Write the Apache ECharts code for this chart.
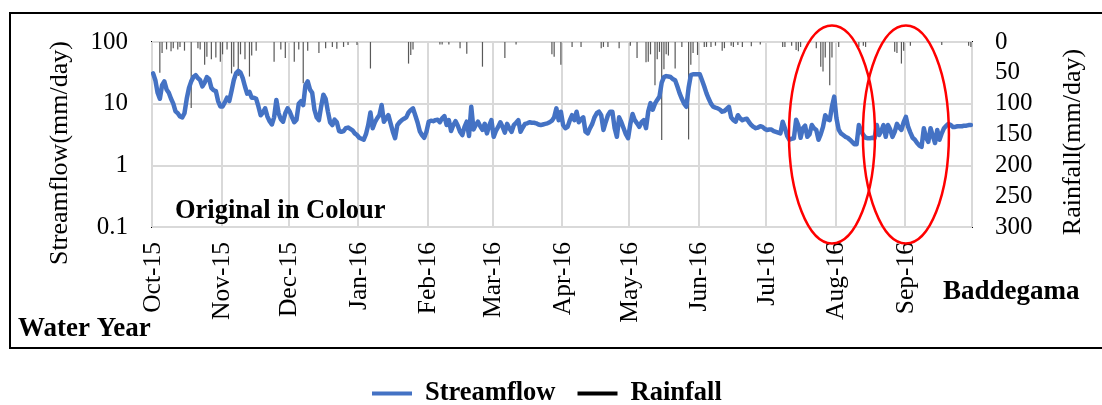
<!DOCTYPE html>
<html>
<head>
<meta charset="utf-8">
<script src="https://cdn.jsdelivr.net/npm/echarts@6/dist/echarts.min.js"></script>
<style>
  html, body { margin: 0; padding: 0; background: #fff; }
  #main { width: 1102px; height: 405px; }
</style>
</head>
<body>
<div id="main"></div>
<script>
// Water year 2015/16, daily values starting 1 Oct 2015 (366 days)
const startDate = Date.UTC(2015, 9, 1);
const dayCount = 366;
const monthLabels = ['Oct-15', 'Nov-15', 'Dec-15', 'Jan-16', 'Feb-16', 'Mar-16',
                     'Apr-16', 'May-16', 'Jun-16', 'Jul-16', 'Aug-16', 'Sep-16'];
const flowTicks = [0.1, 1, 10, 100];
const rainTicks = [0, 50, 100, 150, 200, 250, 300];

// Daily streamflow, mm/day
const streamflow = [
  31,24,15,12,20,23,17,15,12,10,
  7.5,7,6.2,6,7,12,18,23,27,29,
  26,24,19,22,27,25,18,16.5,16,11,
  9,9,10.5,12.5,11,16,24,31,34,32,
  26,19,14.5,15.5,12.5,12.5,12,9,6.5,7.2,
  8.4,6.2,5.2,4.6,6,11.5,7,5.6,5.1,7,
  8.4,7.4,6,5,5.5,10,11,9.5,20,23,
  17,15,8,6,5.4,9,14,12,7.5,5,
  4.5,5.5,5,3.6,3.5,3.6,4,4.1,3.9,3.7,
  3.3,3.1,2.8,2.7,2.6,3.2,4.5,7.2,4,5,
  5.8,6.5,9.5,5.1,5.8,6.5,4.8,3.5,2.75,4.5,
  5,5.4,5.7,6,7.2,7.9,8.4,6.5,5,3.6,
  3.1,2.8,3.5,5.1,5.3,5.2,5.4,5.5,5,5.8,
  6.3,4.5,5.4,3.6,4.5,5.2,4.4,3.5,3.1,4.2,
  5.1,3,8.9,3.8,4.5,5.1,4.3,3.75,4.7,3.3,
  4.4,5.4,2.9,3.6,4.2,5,4.2,3.4,4.7,4,
  3.5,4.5,4.9,5.4,3.5,4.1,4.7,4.8,5,4.9,
  4.9,4.8,4.6,4.5,4.6,4.7,4.8,5,5.3,6,
  8.4,5.4,7.4,4.5,4,4.2,5.4,6.5,5.4,7.4,
  5,5.6,6,3.5,3.3,4,4.7,6,7,7.4,
  6.5,3.75,5,6.5,7.4,7.4,4,2.9,6,5,
  4,3.2,2.75,4.7,6.8,5.4,4.8,4.2,5,5.4,
  4,7.5,10.2,8,10,11.5,13,22,27,28,
  27.5,27,25,24,19,14.7,12,10,8.9,18,
  29,30,30,30,30,24,19,14.7,12,10,
  8.9,8.6,8.4,8,7.4,7.6,8.2,8.9,6,5.4,
  5.1,6.5,5.8,5.4,5.6,5.7,5,4.5,4.2,4,
  4.1,4.3,4.2,3.9,3.75,3.8,3.8,3.6,3.5,3.4,
  3.3,5.1,4,3,2.6,2.7,2.75,5.5,4.4,2.8,
  4,4.4,2.9,3.2,4.5,4,3.75,2.6,3.2,4.2,
  6.5,5.6,5.4,9,13,5.8,3.8,3.3,3.1,2.9,
  2.8,2.6,2.4,2.2,2.2,4.5,3.6,3.1,2.8,2.75,
  2.75,2.8,2.75,4.5,3.1,3.6,4.5,2.9,4.5,3.8,
  2.9,3.5,4.7,4.1,3.75,5,6.1,4.2,3.4,2.8,
  2.6,2.3,2.1,2,4,2.8,2.4,4,3,2.3,
  3.75,2.6,3.3,4,4.4,4.7,4.5,4.2,4.2,4.3,
  4.3,4.3,4.4,4.4,4.5,4.5
];

// Rain days (day of water year) and daily rainfall, mm/day
const rainDay = [
  3,4,6,8,9,11,12,14,17,20,21,23,24,26,28,30,31,33,35,36,
  38,39,41,43,44,46,54,57,59,63,65,67,69,74,77,80,82,85,87,91,
  97,114,115,116,128,129,132,137,140,147,157,162,178,179,182,187,191,200,201,203,
  208,213,216,220,221,222,224,225,226,227,228,229,230,233,236,239,240,241,243,246,
  247,249,251,254,255,258,259,261,263,267,271,281,282,285,287,288,289,296,298,299,
  300,302,303,306,315,317,318,331,332,334,335,338,352,364,365
];
const rainMm = [
  50,18,12,15,10,12,8,14,107,10,12,37,24,28,25,32,20,12,51,40,
  55,20,28,56,22,14,32,12,26,32,12,67,14,18,10,8,11,8,5,5,
  43,35,21,12,4,4,4,10,19,40,26,4,20,24,37,8,8,10,8,8,
  10,6,26,33,32,20,70,28,16,159,44,20,22,43,8,158,37,18,21,8,
  8,8,6,14,10,6,8,5,8,7,4,8,8,6,13,15,8,10,40,48,
  25,70,25,8,8,6,8,16,18,35,14,6,5,6,8
];

// Days highlighted by the red rings
const highlightDays = [303, 336];

const FONT = "'Liberation Serif', 'Times New Roman', serif";

const days = [];
const monthStart = {};
for (let i = 0; i < dayCount; i++) {
  const d = new Date(startDate + i * 86400000);
  days.push(d.toISOString().slice(0, 10));
  if (d.getUTCDate() === 1) {
    const m = (d.getUTCMonth() - 9 + 12) % 12;
    monthStart[i] = monthLabels[m];
  }
}
const rainfall = new Array(dayCount).fill(0);
rainDay.forEach((d, k) => { rainfall[d] = rainMm[k]; });

const GRID = { left: 152, top: 42, right: 130, bottom: 178 };

const chart = echarts.init(document.getElementById('main'));

const option = {
  animation: false,
  backgroundColor: '#fff',
  textStyle: { fontFamily: FONT },
  grid: { left: GRID.left, top: GRID.top, right: GRID.right, bottom: GRID.bottom,
          show: true, borderColor: '#000', borderWidth: 2, backgroundColor: 'transparent' },
  legend: {
    left: 372, top: 380, padding: 0,
    itemWidth: 40, itemHeight: 4, itemGap: 22,
    textStyle: { fontFamily: FONT, fontWeight: 'bold', fontSize: 26.5, color: '#000',
                 padding: [0, 0, 0, 8] },
    data: [
      { name: 'Streamflow', icon: 'rect' },
      { name: 'Rainfall', icon: 'rect', itemStyle: { color: '#000' } }
    ]
  },
  xAxis: {
    type: 'category',
    data: days,
    boundaryGap: true,
    axisLine: { show: false },
    axisTick: { show: false },
    axisLabel: {
      interval: (i) => monthStart[i] !== undefined,
      formatter: (v, i) => monthStart[i] || '',
      rotate: 90, margin: 15,
      fontFamily: FONT, fontSize: 25.5, color: '#000'
    },
    splitLine: {
      show: true,
      interval: (i) => monthStart[i] !== undefined,
      lineStyle: { color: '#d9d9d9', width: 2 }
    }
  },
  yAxis: [
    {
      type: 'log', logBase: 10,
      min: flowTicks[0], max: flowTicks[flowTicks.length - 1],
      axisLine: { show: false },
      axisTick: { show: false },
      axisLabel: {
        margin: 24, fontFamily: FONT, fontSize: 25, color: '#000',
        formatter: (v) => String(flowTicks.find(t => Math.abs(t - v) / t < 1e-6) ?? v)
      },
      splitLine: { show: true, lineStyle: { color: '#d9d9d9', width: 2 } }
    },
    {
      type: 'value', inverse: true,
      min: rainTicks[0], max: rainTicks[rainTicks.length - 1], interval: 50,
      position: 'right',
      axisLine: { show: false },
      axisTick: { show: false },
      axisLabel: { margin: 23, fontFamily: FONT, fontSize: 25, color: '#000' },
      splitLine: { show: false }
    }
  ],
  series: [
    {
      name: 'Rainfall', type: 'bar', yAxisIndex: 1,
      data: rainfall, barWidth: 1.2,
      itemStyle: { color: '#595959' },
      z: 2
    },
    {
      name: 'Streamflow', type: 'line', yAxisIndex: 0,
      data: streamflow, showSymbol: false, symbol: 'none',
      lineStyle: { color: '#4472c4', width: 4.5, join: 'round', cap: 'round' },
      itemStyle: { color: '#4472c4' },
      z: 5
    }
  ]
};
chart.setOption(option);

// Annotations: outer frame, axis titles, captions and the highlight rings
const plotTop = GRID.top, plotBottom = 405 - GRID.bottom;
const midY = (plotTop + plotBottom) / 2;
const rings = highlightDays.map(d => {
  const cx = chart.convertToPixel({ xAxisIndex: 0 }, d);
  return {
    type: 'ellipse',
    shape: { cx: cx, cy: midY, rx: 43, ry: 109 },
    style: { fill: null, stroke: '#ff0000', lineWidth: 2.5 },
    z: 20
  };
});

chart.setOption({
  graphic: [
    { type: 'rect', shape: { x: 10, y: 13, width: 1100, height: 335 },
      style: { fill: null, stroke: '#000', lineWidth: 2 }, z: 1, silent: true },
    { type: 'text', x: 60, y: 153, rotation: Math.PI / 2,
      style: { text: 'Streamflow(mm/day)', font: '26px ' + FONT, fill: '#000',
               textAlign: 'center', textVerticalAlign: 'middle' } },
    { type: 'text', x: 1073, y: 142, rotation: Math.PI / 2,
      style: { text: 'Rainfall(mm/day)', font: '26px ' + FONT, fill: '#000',
               textAlign: 'center', textVerticalAlign: 'middle' } },
    { type: 'text', x: 175, y: 211,
      style: { text: 'Original in Colour', font: 'bold 26.5px ' + FONT, fill: '#000',
               textAlign: 'left', textVerticalAlign: 'middle' }, z: 10 },
    { type: 'text', x: 18, y: 329,
      style: { text: 'Water Year', font: 'bold 27px ' + FONT, fill: '#000',
               textAlign: 'left', textVerticalAlign: 'middle' } },
    { type: 'text', x: 943, y: 292,
      style: { text: 'Baddegama', font: 'bold 27px ' + FONT, fill: '#000',
               textAlign: 'left', textVerticalAlign: 'middle' } }
  ].concat(rings)
});
</script>
</body>
</html>
